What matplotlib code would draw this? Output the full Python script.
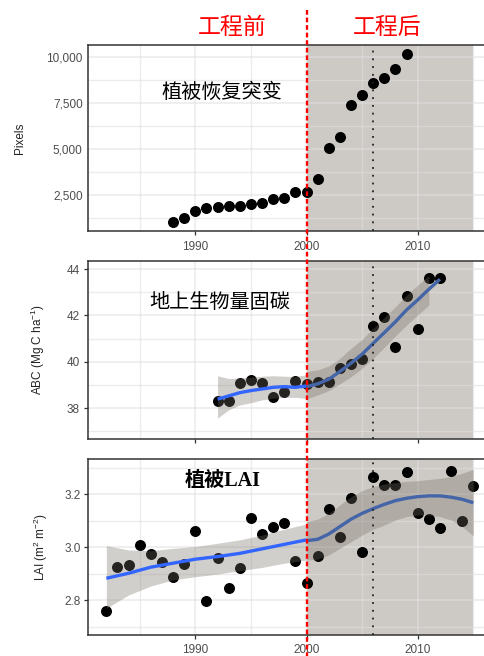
import matplotlib
matplotlib.use("Agg")
import matplotlib.pyplot as plt
import matplotlib.transforms as mtransforms
from matplotlib.lines import Line2D
from matplotlib.ticker import FuncFormatter, FixedLocator

plt.rcParams['font.family'] = ['Liberation Sans', 'Noto Sans CJK SC']
plt.rcParams['mathtext.default'] = 'regular'

# ---- vegetation pixels (abrupt recovery) ----
years_pix = list(range(1988, 2010))
pixels = [1011, 1229, 1610, 1810, 1846, 1883, 1901, 1992, 2064, 2264, 2337,
          2663, 2682, 3371, 5042, 5641, 7402, 7928, 8618, 8854, 9344, 10198]

# ---- aboveground biomass carbon ----
years_abc = list(range(1992, 2013))
abc = [38.33, 38.33, 39.07, 39.23, 39.10, 38.47, 38.69, 39.19, 39.05, 39.13,
       39.15, 39.73, 39.92, 40.12, 41.56, 41.93, 40.64, 42.84, 41.40, 43.63, 43.60]

abc_pre_years = list(range(1992, 2001))
abc_pre_fit = [38.39, 38.53, 38.67, 38.76, 38.83, 38.90, 38.93, 38.90, 38.96]
abc_pre_hi = [39.40, 39.28, 39.30, 39.34, 39.38, 39.40, 39.38, 39.36, 39.45]
abc_pre_lo = [37.57, 37.93, 38.14, 38.24, 38.36, 38.43, 38.47, 38.47, 38.42]

abc_post_years = list(range(2000, 2013))
abc_post_fit = [38.93, 39.05, 39.25, 39.58, 39.94, 40.33, 40.80, 41.26, 41.73,
                42.24, 42.67, 43.13, 43.56]
abc_post_band_years = list(range(2000, 2012))
abc_post_hi = [39.58, 39.65, 39.82, 40.15, 40.58, 40.97, 41.44, 41.92, 42.38,
               42.88, 43.31, 43.73]
abc_post_lo = [38.40, 38.57, 38.76, 39.05, 39.36, 39.72, 40.15, 40.63, 41.12,
               41.59, 42.02, 42.45]

# ---- leaf area index ----
years_lai = list(range(1982, 2016))
lai = [2.761, 2.924, 2.935, 3.009, 2.974, 2.945, 2.887, 2.938, 3.062, 2.797,
       2.961, 2.845, 2.922, 3.111, 3.052, 3.077, 3.091, 2.948, 2.864, 2.966,
       3.146, 3.040, 3.186, 2.981, 3.264, 3.234, 3.234, 3.284, 3.131, 3.108,
       3.072, 3.287, 3.099, 3.233]

lai_pre_years = list(range(1982, 2001, 2))
lai_pre_fit = [2.883, 2.902, 2.925, 2.940, 2.955, 2.965, 2.977, 2.994, 3.011, 3.028]
lai_pre_hi = [3.006, 2.990, 2.987, 2.996, 3.003, 3.015, 3.028, 3.046, 3.068, 3.088]
lai_pre_lo = [2.770, 2.820, 2.854, 2.877, 2.889, 2.899, 2.912, 2.924, 2.940, 2.952]

lai_post_years = list(range(2000, 2016))
lai_post_fit = [3.025, 3.030, 3.050, 3.078, 3.106, 3.128, 3.146, 3.162, 3.176,
                3.185, 3.191, 3.194, 3.194, 3.189, 3.181, 3.168]
lai_post_hi = [3.097, 3.106, 3.128, 3.160, 3.191, 3.214, 3.229, 3.239, 3.244,
               3.249, 3.251, 3.256, 3.260, 3.267, 3.279, 3.294]
lai_post_lo = [2.952, 2.955, 2.971, 2.996, 3.021, 3.046, 3.068, 3.084, 3.103,
               3.116, 3.122, 3.122, 3.116, 3.103, 3.078, 3.043]

x_major = [1990, 2000, 2010]
x_minor = [1985, 1995, 2005, 2015]
breakpoint_year = 2000
shade_end = 2015
midpoint_year = 2006

W, H = 485, 656
fig = plt.figure(figsize=(W / 100, H / 100), dpi=100)

left_px, right_px = 88, 485
panels_px = [(45, 230.7), (260.7, 439.3), (459.3, 635)]


def make_ax(top, bottom):
    return fig.add_axes([left_px / W, 1 - bottom / H,
                         (right_px - left_px) / W, (bottom - top) / H])


axes = [make_ax(t, b) for t, b in panels_px]

SHADE = '#CDC9C4'
RIBBON = '#766E66'
PRE_BLUE = '#3366FF'
POST_BLUE = '#4465A8'
SPINE = '#333333'
TICK_TXT = '#4D4D4D'


def style(ax, ylim, yticks, yminor, fmt, tick_len, ypad, show_xlabels, xpad):
    ax.set_xlim(1980.35, 2016.05)
    ax.set_ylim(*ylim)
    ax.set_axisbelow(True)
    ax.axvspan(breakpoint_year, shade_end, color=SHADE, lw=0, zorder=0.2)
    ax.xaxis.set_major_locator(FixedLocator(x_major))
    ax.xaxis.set_minor_locator(FixedLocator(x_minor))
    ax.yaxis.set_major_locator(FixedLocator(yticks))
    ax.yaxis.set_minor_locator(FixedLocator(yminor))
    ax.yaxis.set_major_formatter(FuncFormatter(fmt))
    ax.grid(which='major', color='#E0E0E0', lw=1.2, alpha=0.6)
    ax.grid(which='minor', color='#E0E0E0', lw=1.0, alpha=0.6)
    ax.tick_params(which='minor', length=0)
    ax.tick_params(axis='y', which='major', length=tick_len, width=0.9,
                   color=SPINE, labelsize=8.5, labelcolor=TICK_TXT, pad=ypad)
    ax.tick_params(axis='x', which='major', length=3.2, width=0.9,
                   color=SPINE, labelsize=8.5, labelcolor=TICK_TXT, pad=xpad,
                   labelbottom=show_xlabels)
    for side in ('left', 'top', 'bottom'):
        ax.spines[side].set_color(SPINE)
        ax.spines[side].set_linewidth(1.1)
    ax.spines['right'].set_visible(False)
    ax.axvline(midpoint_year, color='#222222', lw=1.3,
               linestyle=(0, (1, 3.3)), zorder=5)


# Panel 1: vegetation pixels
ax1 = axes[0]
style(ax1, (556, 10670), [2500, 5000, 7500, 10000], [1250, 3750, 6250, 8750],
      lambda v, p: f"{v:,.0f}", 0, 3.8, True, 4.5)
ax1.plot(years_pix, pixels, 'o', color='black', ms=6.9, zorder=3)
ax1.set_ylabel('Pixels', fontsize=8.5, color='#222222')
ax1.yaxis.set_label_coords(-0.156, 0.5)

# Panel 2: aboveground biomass carbon
ax2 = axes[1]
style(ax2, (36.66, 44.36), [38, 40, 42, 44], [37, 39, 41, 43],
      lambda v, p: f"{v:.0f}", 3, 3.0, False, 4.5)
ax2.plot(years_abc, abc, 'o', color='black', ms=6.9, zorder=2)
ax2.fill_between(abc_pre_years, abc_pre_lo, abc_pre_hi, color=RIBBON,
                 alpha=0.33, lw=0, zorder=3)
ax2.fill_between(abc_post_band_years, abc_post_lo, abc_post_hi, color=RIBBON,
                 alpha=0.33, lw=0, zorder=3)
ax2.plot(abc_pre_years, abc_pre_fit, color=PRE_BLUE, lw=2.4,
         solid_capstyle='butt', zorder=4)
ax2.plot(abc_post_years, abc_post_fit, color=POST_BLUE, lw=2.4,
         solid_capstyle='butt', zorder=4)
ax2.set_ylabel('ABC (Mg C ha$^{-1}$)', fontsize=8.5, color='#222222')
ax2.yaxis.set_label_coords(-0.104, 0.5)

# Panel 3: leaf area index
ax3 = axes[2]
style(ax3, (2.669, 3.332), [2.8, 3.0, 3.2], [2.7, 2.9, 3.1, 3.3],
      lambda v, p: f"{v:.1f}", 3, 2.2, True, 3.0)
ax3.plot(years_lai, lai, 'o', color='black', ms=6.9, zorder=2)
ax3.fill_between(lai_pre_years, lai_pre_lo, lai_pre_hi, color=RIBBON,
                 alpha=0.33, lw=0, zorder=3)
ax3.fill_between(lai_post_years, lai_post_lo, lai_post_hi, color=RIBBON,
                 alpha=0.33, lw=0, zorder=3)
ax3.plot(lai_pre_years, lai_pre_fit, color=PRE_BLUE, lw=2.4,
         solid_capstyle='butt', zorder=4)
ax3.plot(lai_post_years, lai_post_fit, color=POST_BLUE, lw=2.4,
         solid_capstyle='butt', zorder=4)
ax3.set_ylabel('LAI (m$^2$ m$^{-2}$)', fontsize=8.5, color='#222222')
ax3.yaxis.set_label_coords(-0.096, 0.5)

# Panel titles
title_font = ['Liberation Serif', 'Noto Sans CJK SC']
ax1.text(221.5 / W, 1 - 93 / H, '植被恢复突变', transform=fig.transFigure,
         ha='center', va='center', fontsize=14.5, family=title_font,
         weight='medium', zorder=6)
ax2.text(220 / W, 1 - 304 / H, '地上生物量固碳', transform=fig.transFigure,
         ha='center', va='center', fontsize=14.5, family=title_font,
         weight='medium', zorder=6)
ax3.text(223 / W, 1 - 481 / H, '植被LAI', transform=fig.transFigure,
         ha='center', va='center', fontsize=14.5, family=title_font,
         weight='bold', zorder=6)

# Before / after labels
fig.text(232.5 / W, 1 - 27 / H, '工程前', color='red', fontsize=16.5,
         ha='center', va='center', family=['Noto Sans CJK SC'])
fig.text(387.5 / W, 1 - 27 / H, '工程后', color='red', fontsize=16.5,
         ha='center', va='center', family=['Noto Sans CJK SC'])

# Red dashed breakpoint line running through all panels
trans = mtransforms.blended_transform_factory(ax3.transData, fig.transFigure)
fig.add_artist(Line2D([breakpoint_year, breakpoint_year], [1 - 10 / H, 0],
                      transform=trans, color='red', lw=1.7,
                      linestyle=(0, (2.0, 1.2)), zorder=10))

fig.savefig('out.png', dpi=100)
